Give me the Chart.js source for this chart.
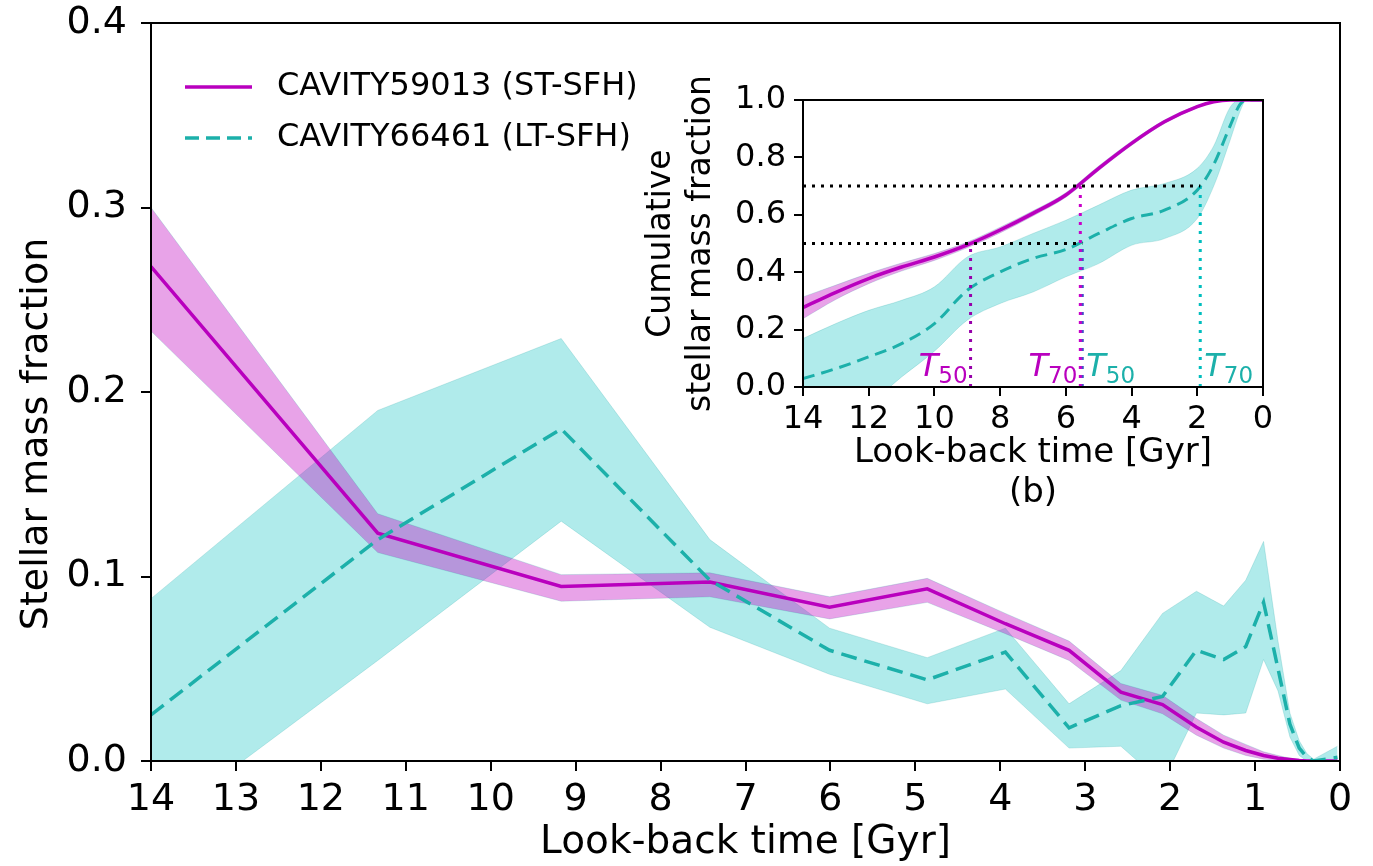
<!DOCTYPE html>
<html>
<head>
<meta charset="utf-8">
<script src="https://cdn.jsdelivr.net/npm/chart.js@4/dist/chart.umd.min.js"></script>
<style>
html, body { margin: 0; padding: 0; background: #fff; }
#wrap { position: relative; width: 1373px; height: 866px; overflow: hidden; }
#main { position: absolute; left: 0; top: 0; }
#insetBox { position: absolute; left: 620px; top: 60px; width: 680px; height: 480px; }
</style>
</head>
<body>
<div id="wrap">
  <canvas id="main" width="1373" height="866"></canvas>
  <div id="insetBox"><canvas id="inset" width="680" height="480"></canvas></div>
</div>
<script>
// main panel: stellar mass fraction per age bin (Gyr)
const ageBins = [14, 11.33, 9.17, 7.42, 6.01, 4.86, 3.94, 3.19, 2.58, 2.09, 1.69, 1.37, 1.11, 0.90, 0.73, 0.59, 0.48, 0.39, 0.31, 0.03];
const stMid  = [0.268, 0.1235, 0.0946, 0.097, 0.0834, 0.0933, 0.0744, 0.060, 0.0373, 0.0306, 0.0183, 0.0102, 0.0057, 0.003, 0.0015, 0.0008, 0.0003, 0, 0, 0];
const stLow  = [0.233, 0.113, 0.0866, 0.089, 0.077, 0.086, 0.069, 0.0545, 0.033, 0.0256, 0.014, 0.007, 0.003, 0.001, 0.0005, 0, 0, 0, 0, 0];
const stHigh = [0.300, 0.134, 0.101, 0.102, 0.089, 0.099, 0.080, 0.065, 0.042, 0.0356, 0.023, 0.014, 0.009, 0.005, 0.003, 0.0015, 0.001, 0.0005, 0.0003, 0];
const ltMid  = [0.025, 0.120, 0.180, 0.098, 0.060, 0.044, 0.059, 0.018, 0.030, 0.035, 0.060, 0.055, 0.062, 0.086, 0.050, 0.020, 0.007, 0.002, 0, 0.002];
const ltLow  = [-0.037, 0.0545, 0.130, 0.0725, 0.047, 0.031, 0.039, 0.007, 0.008, -0.012, 0.026, 0.025, 0.026, 0.055, 0.038, 0.013, 0.003, 0, 0, 0];
const ltHigh = [0.088, 0.190, 0.229, 0.120, 0.072, 0.056, 0.072, 0.031, 0.049, 0.080, 0.092, 0.084, 0.098, 0.119, 0.065, 0.026, 0.011, 0.004, 0.001, 0.008];

// inset (b): cumulative stellar mass fraction
const inT      = [14, 13, 12, 11, 10, 9, 8, 7, 6, 5, 4, 3, 2, 1.5, 1, 0.7, 0.5, 0];
const stCum    = [0.277, 0.330, 0.378, 0.418, 0.453, 0.495, 0.547, 0.605, 0.669, 0.762, 0.849, 0.924, 0.977, 0.994, 1.0, 1.0, 1.0, 1.0];
const stCumLo  = [0.238, 0.305, 0.360, 0.404, 0.441, 0.485, 0.537, 0.596, 0.661, 0.754, 0.842, 0.918, 0.973, 0.992, 1.0, 1.0, 1.0, 1.0];
const stCumHi  = [0.314, 0.355, 0.396, 0.432, 0.465, 0.505, 0.557, 0.614, 0.677, 0.770, 0.856, 0.930, 0.981, 0.996, 1.0, 1.0, 1.0, 1.0];
const ltCum    = [0.029, 0.064, 0.105, 0.151, 0.221, 0.337, 0.401, 0.448, 0.479, 0.535, 0.587, 0.616, 0.686, 0.775, 0.910, 0.985, 1.0, 1.0];
const ltCumLo  = [-0.18, -0.12, -0.06, 0.035, 0.125, 0.233, 0.291, 0.331, 0.384, 0.430, 0.494, 0.517, 0.587, 0.700, 0.860, 0.960, 1.0, 1.0];
const ltCumHi  = [0.169, 0.221, 0.267, 0.302, 0.349, 0.453, 0.488, 0.535, 0.581, 0.634, 0.686, 0.709, 0.762, 0.840, 0.975, 1.0, 1.0, 1.0];

// formation times
const stT50 = 8.90, stT70 = 5.56, ltT50 = 5.50, ltT70 = 1.91;

const names = ['CAVITY59013 (ST-SFH)', 'CAVITY66461 (LT-SFH)'];
const mainYTitle = 'Stellar mass fraction';

const magenta = 'rgb(185,0,190)';
const magentaBand = 'rgba(191,0,191,0.36)';
const teal = 'rgb(28,176,170)';
const cyanBand = 'rgba(0,191,191,0.31)';
const FONT = 'DejaVu Sans';

function pts(xs, ys) {
    return xs.map((x, i) => ({x: x, y: ys[i]}));
}

function band(xs, ys, color, fill) {
    return {data: pts(xs, ys), borderWidth: 1, borderColor: 'rgba(0,150,150,0.18)', pointRadius: 0, backgroundColor: color, fill: fill};
}

// box around plot area (matplotlib spines)
const frame = {
    id: 'frame',
    afterDraw(chart) {
        const a = chart.chartArea, ctx = chart.ctx;
        ctx.save();
        ctx.strokeStyle = '#000';
        ctx.lineWidth = 2;
        ctx.strokeRect(a.left, a.top, a.right - a.left, a.bottom - a.top);
        ctx.restore();
    }
};

// legend + y label of the main panel
const legendBox = {
    id: 'legendBox',
    afterDraw(chart) {
        const ctx = chart.ctx;
        ctx.save();
        ctx.lineWidth = 3.5;
        ctx.strokeStyle = magenta;
        ctx.beginPath(); ctx.moveTo(185, 87); ctx.lineTo(252, 87); ctx.stroke();
        ctx.strokeStyle = teal;
        ctx.setLineDash([14, 7]);
        ctx.beginPath(); ctx.moveTo(185, 138); ctx.lineTo(252, 138); ctx.stroke();
        ctx.setLineDash([]);
        ctx.fillStyle = '#000';
        ctx.font = '32px "' + FONT + '"';
        ctx.textBaseline = 'middle';
        ctx.fillText(names[0], 277, 87);
        ctx.fillText(names[1], 277, 138);
        // y label sits a bit below the axis centre in the original
        ctx.translate(37, 434);
        ctx.rotate(-Math.PI / 2);
        ctx.textAlign = 'center';
        ctx.font = '38px "' + FONT + '"';
        ctx.fillText(mainYTitle, 0, 0);
        ctx.restore();
    }
};

function axisOpts(min, max, step, size, title, decimals) {
    return {
        type: 'linear', min: min, max: max,
        ticks: {stepSize: step, autoSkip: false, maxRotation: 0, color: '#000', padding: 6,
                font: {family: FONT, size: size},
                callback: v => decimals ? v.toFixed(decimals) : String(v)},
        grid: {drawOnChartArea: false, drawTicks: true, tickLength: 10, color: '#000', lineWidth: 2},
        border: {display: true, color: '#000', width: 2},
        title: {display: true, text: title, color: '#000', font: {family: FONT, size: 39}}
    };
}

const mx = axisOpts(0, 14, 1, 38, 'Look-back time [Gyr]', 0);
mx.reverse = true;
mx.title.padding = {top: 0, bottom: 0};
mx.afterFit = s => { s.height = 105; };
const my = axisOpts(0, 0.4, 0.1, 38, '', 1);
my.title.display = false;
my.ticks.padding = 14;
my.afterFit = s => { s.width = 151; s.paddingTop = 0; };

new Chart(document.getElementById('main'), {
    type: 'line',
    data: {
        datasets: [
            {label: names[1], data: pts(ageBins, ltMid), borderColor: teal, borderWidth: 3.5, borderDash: [16, 8], pointRadius: 0, fill: false},
            {label: names[0], data: pts(ageBins, stMid), borderColor: magenta, borderWidth: 3.5, pointRadius: 0, fill: false},
            band(ageBins, stHigh, magentaBand, '+1'),
            band(ageBins, stLow, magentaBand, false),
            band(ageBins, ltHigh, cyanBand, '+1'),
            band(ageBins, ltLow, cyanBand, false)
        ]
    },
    options: {
        responsive: false, animation: false, devicePixelRatio: 1,
        layout: {padding: {top: 23, right: 33, left: 0, bottom: 0}},
        plugins: {legend: {display: false}, tooltip: {enabled: false}},
        scales: {x: mx, y: my}
    },
    plugins: [frame, legendBox]
});

// T50 / T70 labels in the inset
const labelLevel = 0.04;
const tLabels = {
    id: 'tLabels',
    afterDraw(chart) {
        const ctx = chart.ctx, xs = chart.scales.x, ys = chart.scales.y;
        const yb = ys.getPixelForValue(labelLevel);
        const items = [
            [stT50, '50', magenta, 'right'],
            [stT70, '70', magenta, 'right'],
            [ltT50, '50', teal, 'left'],
            [ltT70, '70', teal, 'left']
        ];
        ctx.save();
        ctx.textBaseline = 'alphabetic';
        items.forEach(it => {
            ctx.font = 'italic 32px "' + FONT + '"';
            const wT = ctx.measureText('T').width;
            ctx.font = '23px "' + FONT + '"';
            const wS = ctx.measureText(it[1]).width;
            const px = xs.getPixelForValue(it[0]);
            const x0 = it[3] === 'right' ? px - 3 - wT - wS : px + 4;
            ctx.fillStyle = it[2];
            ctx.font = 'italic 32px "' + FONT + '"';
            ctx.fillText('T', x0, yb);
            ctx.font = '23px "' + FONT + '"';
            ctx.fillText(it[1], x0 + wT, yb + 7);
        });
        ctx.restore();
    }
};

function dotted(xs, ys, color) {
    return {data: pts(xs, ys), borderColor: color, borderWidth: 3, borderDash: [3, 6], pointRadius: 0, fill: false};
}

const ix = axisOpts(0, 14, 2, 32, ['Look-back time [Gyr]', '(b)'], 0);
ix.reverse = true;
ix.grid.tickLength = 9;
ix.ticks.padding = 4;
ix.title.font.size = 34;
ix.title.padding = {top: 0, bottom: 26};
ix.afterFit = s => { s.height = 153; };
const iy = axisOpts(0, 1.0, 0.2, 32, ['Cumulative', 'stellar mass fraction'], 1);
iy.grid.tickLength = 9;
iy.ticks.padding = 8;
iy.title.font.size = 33;
iy.title.padding = {top: 22, bottom: 0};
iy.afterFit = s => { s.width = 183; s.paddingTop = 0; };

new Chart(document.getElementById('inset'), {
    type: 'line',
    data: {
        datasets: [
            dotted([14, ltT70], [0.7, 0.7], '#000'),
            dotted([14, ltT50], [0.5, 0.5], '#000'),
            dotted([stT50, stT50], [0, 0.5], 'rgb(150,0,170)'),
            dotted([stT70, stT70], [0, 0.7], 'rgb(200,0,200)'),
            dotted([ltT50, ltT50], [0, 0.5], 'rgb(70,80,200)'),
            dotted([ltT70, ltT70], [0, 0.7], 'rgb(0,190,190)'),
            {data: pts(inT, stCum), borderColor: magenta, borderWidth: 3.5, pointRadius: 0, fill: false, cubicInterpolationMode: 'monotone'},
            {data: pts(inT, ltCum), borderColor: teal, borderWidth: 3, borderDash: [12, 7], pointRadius: 0, fill: false, cubicInterpolationMode: 'monotone'},
            Object.assign(band(inT, stCumHi, magentaBand, '+1'), {cubicInterpolationMode: 'monotone'}),
            Object.assign(band(inT, stCumLo, magentaBand, false), {cubicInterpolationMode: 'monotone'}),
            Object.assign(band(inT, ltCumHi, cyanBand, '+1'), {cubicInterpolationMode: 'monotone'}),
            Object.assign(band(inT, ltCumLo, cyanBand, false), {cubicInterpolationMode: 'monotone'})
        ]
    },
    options: {
        responsive: false, animation: false, devicePixelRatio: 1,
        layout: {padding: {top: 40, right: 37, left: 0, bottom: 0}},
        plugins: {legend: {display: false}, tooltip: {enabled: false}},
        scales: {x: ix, y: iy}
    },
    plugins: [frame, tLabels]
});
</script>
</body>
</html>
